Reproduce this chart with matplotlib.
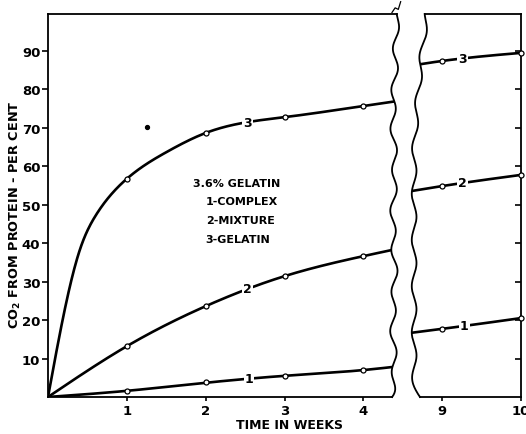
import numpy as np
import matplotlib
matplotlib.use("Agg")
import matplotlib.pyplot as plt
from matplotlib.patches import Polygon

plt.rcParams['font.family'] = ['DejaVu Sans']
plt.rcParams['font.weight'] = 'bold'

# ---- measured points (weeks, % CO2 from protein) ----
weeks_early = [1, 2, 3, 4]
complex_early = [1.6, 3.8, 5.5, 7.0]
mixture_early = [13.2, 23.6, 31.4, 36.6]
gelatin_early = [56.7, 68.6, 72.7, 75.6]

weeks_late = [9, 10]
complex_late = [17.7, 20.5]
mixture_late = [54.8, 57.7]
gelatin_late = [87.3, 89.4]

# ---- traced curves (weeks, %) ----
complex_curve_x = [0, 1, 2, 3, 4, 4.5]
complex_curve_y = [0, 1.6, 3.7, 5.5, 7.0, 8.1]
mixture_curve_x = [0, 1, 2, 3, 4, 4.5]
mixture_curve_y = [0, 13.2, 23.6, 31.4, 36.6, 38.8]
gelatin_curve_x = [0, 0.2, 0.4, 0.6, 0.8, 1.0, 1.5, 2.0, 3.0, 4.0, 4.5]
gelatin_curve_y = [0, 21.5, 38, 47.0, 52.6, 56.7, 63.6, 68.6, 72.7, 75.6, 77.1]

complex_late_x = [8.58, 9, 10]
complex_late_y = [16.6, 17.7, 20.5]
mixture_late_x = [8.58, 9, 10]
mixture_late_y = [53.4, 54.8, 57.7]
gelatin_late_x = [8.58, 9, 10]
gelatin_late_y = [86.0, 87.3, 89.4]

stray_dot = (1.25, 70.1)

legend_lines = ["3.6% GELATIN", "1-COMPLEX", "2-MIXTURE", "3-GELATIN"]
ytick_vals = [10, 20, 30, 40, 50, 60, 70, 80, 90]


def cspline(x, y, xn):
    """Natural cubic spline through (x, y), evaluated at xn."""
    x = np.asarray(x, float)
    y = np.asarray(y, float)
    n = len(x)
    h = np.diff(x)
    A = np.zeros((n, n))
    r = np.zeros(n)
    A[0, 0] = A[-1, -1] = 1.0
    for i in range(1, n - 1):
        A[i, i - 1] = h[i - 1]
        A[i, i] = 2 * (h[i - 1] + h[i])
        A[i, i + 1] = h[i]
        r[i] = 6 * ((y[i + 1] - y[i]) / h[i] - (y[i] - y[i - 1]) / h[i - 1])
    M = np.linalg.solve(A, r)
    idx = np.clip(np.searchsorted(x, xn) - 1, 0, n - 2)
    x0, x1 = x[idx], x[idx + 1]
    hh = h[idx]
    a = (x1 - xn) / hh
    b = (xn - x0) / hh
    return (a * y[idx] + b * y[idx + 1]
            + ((a**3 - a) * M[idx] + (b**3 - b) * M[idx + 1]) * hh**2 / 6.0)


W, H = 526, 435
fig = plt.figure(figsize=(W / 100, H / 100), dpi=100)
fig.patch.set_facecolor('white')

ybot, ytop = 398, 15
ax1 = fig.add_axes([48 / W, (H - ybot) / H, (395 - 48) / W, (ybot - ytop) / H])
ax2 = fig.add_axes([409 / W, (H - ybot) / H, (521 - 409) / W, (ybot - ytop) / H])

YMAX = 99.5
ax1.set_xlim(0, 4.4)
ax2.set_xlim(8.58, 10.0)
for ax in (ax1, ax2):
    ax.set_ylim(0, YMAX)
    ax.set_facecolor('none')

LW = 1.9
MS = 3.6

# ---- hand-drawn break edges ----
yy = np.linspace(0, YMAX, 400)
wave1 = (4.385 + 0.035 * np.sin(2 * np.pi * yy / 10.5 + 0.8)
         + 0.012 * np.sin(2 * np.pi * yy / 27.0 + 0.3))
wave1 = wave1 - 0.05 * np.exp(-yy / 2.5) + 0.07 * np.exp(-(YMAX - yy) / 6.0)

base2 = 8.645 + 0.16 * np.clip((yy - 62) / 38.0, 0, 1) ** 1.4
wave2 = base2 + 0.03 * np.sin(2 * np.pi * yy / 12.0 + 2.2)
wave2 = wave2 + 0.05 * np.exp(-yy / 2.0)

clip1 = Polygon(np.column_stack([np.r_[-1, wave1, -1], np.r_[0, yy, YMAX]]),
                closed=True, transform=ax1.transData, visible=False)
clip2 = Polygon(np.column_stack([np.r_[11, wave2, 11], np.r_[0, yy, YMAX]]),
                closed=True, transform=ax2.transData, visible=False)
ax1.add_patch(clip1)
ax2.add_patch(clip2)

# ---- left panel curves ----
for cx, cy in [(complex_curve_x, complex_curve_y),
               (mixture_curve_x, mixture_curve_y),
               (gelatin_curve_x, gelatin_curve_y)]:
    xs = np.linspace(cx[0], cx[-1], 500)
    ln, = ax1.plot(xs, cspline(cx, cy, xs), color='black', lw=LW, zorder=3)
    ln.set_clip_path(clip1)

for yv in (complex_early, mixture_early, gelatin_early):
    ax1.plot(weeks_early, yv, 'o', ms=MS, mfc='white', mec='black', mew=0.9, zorder=4)

ax1.plot(*stray_dot, 'o', ms=2.8, color='black', zorder=4)

# ---- right panel curves ----
for cx, cy in [(complex_late_x, complex_late_y),
               (mixture_late_x, mixture_late_y),
               (gelatin_late_x, gelatin_late_y)]:
    xs = np.linspace(cx[0], cx[-1], 200)
    ln, = ax2.plot(xs, cspline(cx, cy, xs), color='black', lw=LW, zorder=3)
    ln.set_clip_path(clip2)
for yv in (complex_late, mixture_late, gelatin_late):
    ax2.plot(weeks_late, yv, 'o', ms=MS, mfc='white', mec='black', mew=0.9,
             zorder=4, clip_on=False)

# ---- curve number labels ----
lab_kw = dict(ha='center', va='center', fontsize=9, fontweight='bold', zorder=5,
              bbox=dict(boxstyle='square,pad=0.08', fc='white', ec='none'))
for num, cx, cy, xpos in [("1", complex_curve_x, complex_curve_y, 2.55),
                          ("2", mixture_curve_x, mixture_curve_y, 2.53),
                          ("3", gelatin_curve_x, gelatin_curve_y, 2.53)]:
    ax1.text(xpos, float(cspline(cx, cy, np.array([xpos]))[0]), num, **lab_kw)
for num, cx, cy, xpos in [("1", complex_late_x, complex_late_y, 9.28),
                          ("2", mixture_late_x, mixture_late_y, 9.26),
                          ("3", gelatin_late_x, gelatin_late_y, 9.26)]:
    ax2.text(xpos, float(cspline(cx, cy, np.array([xpos]))[0]), num, **lab_kw)

# ---- legend block ----
ax1.text(1.84, 55.6, legend_lines[0], fontsize=8, fontweight='bold', ha='left', va='center')
for i, s in enumerate(legend_lines[1:]):
    ax1.text(2.0, 50.8 - 4.9 * i, s, fontsize=8, fontweight='bold', ha='left', va='center')

# ---- draw the edges ----
ax1.plot(wave1, yy, color='black', lw=1.3, clip_on=False, zorder=6)
ax1.plot([wave1[-1] - 0.06, wave1[-1] - 0.02, wave1[-1] + 0.02, wave1[-1] + 0.05],
         [YMAX + 0.4, YMAX + 1.6, YMAX + 1.2, YMAX + 3.2],
         color='black', lw=0.9, clip_on=False)
ax2.plot(wave2, yy, color='black', lw=1.3, clip_on=False, zorder=6)

# ---- spines ----
for ax in (ax1, ax2):
    for s in ax.spines.values():
        s.set_linewidth(1.3)
ax1.spines['right'].set_visible(False)
ax1.spines['top'].set_bounds(0, wave1[-1])
ax1.spines['bottom'].set_bounds(0, wave1[0])
ax2.spines['left'].set_visible(False)
ax2.spines['top'].set_bounds(wave2[-1], 10)
ax2.spines['bottom'].set_bounds(wave2[0], 10)

# ---- ticks ----
ax1.set_xticks(weeks_early)
ax1.set_xticklabels([str(w) for w in weeks_early])
ax1.set_yticks(ytick_vals)
ax1.set_yticklabels([str(v) for v in ytick_vals])
ax1.tick_params(axis='both', direction='out', length=4, width=1.2, labelsize=9.5, pad=1.5)
ax1.tick_params(axis='x', length=3, pad=2)

ax2.set_xticks(weeks_late)
ax2.set_xticklabels([str(w) for w in weeks_late])
ax2.set_yticks(ytick_vals)
ax2.yaxis.tick_right()
ax2.tick_params(axis='y', direction='in', length=4, width=1.2, labelright=False)
ax2.tick_params(axis='x', direction='out', length=3, width=1.2, labelsize=9.5, pad=2)

for ax in (ax1, ax2):
    for lbl in ax.get_xticklabels() + ax.get_yticklabels():
        lbl.set_fontweight('bold')

# ---- axis titles ----
fig.text(290 / W, (H - 426) / H, "TIME IN WEEKS", ha='center', va='center',
         fontsize=9, fontweight='bold')
fig.text(15 / W, (H - 215) / H, "CO$_\\mathbf{2}$ FROM PROTEIN - PER CENT", ha='center',
         va='center', rotation=90, fontsize=9.3, fontweight='bold')

fig.savefig("out.png", dpi=100, facecolor='white')
